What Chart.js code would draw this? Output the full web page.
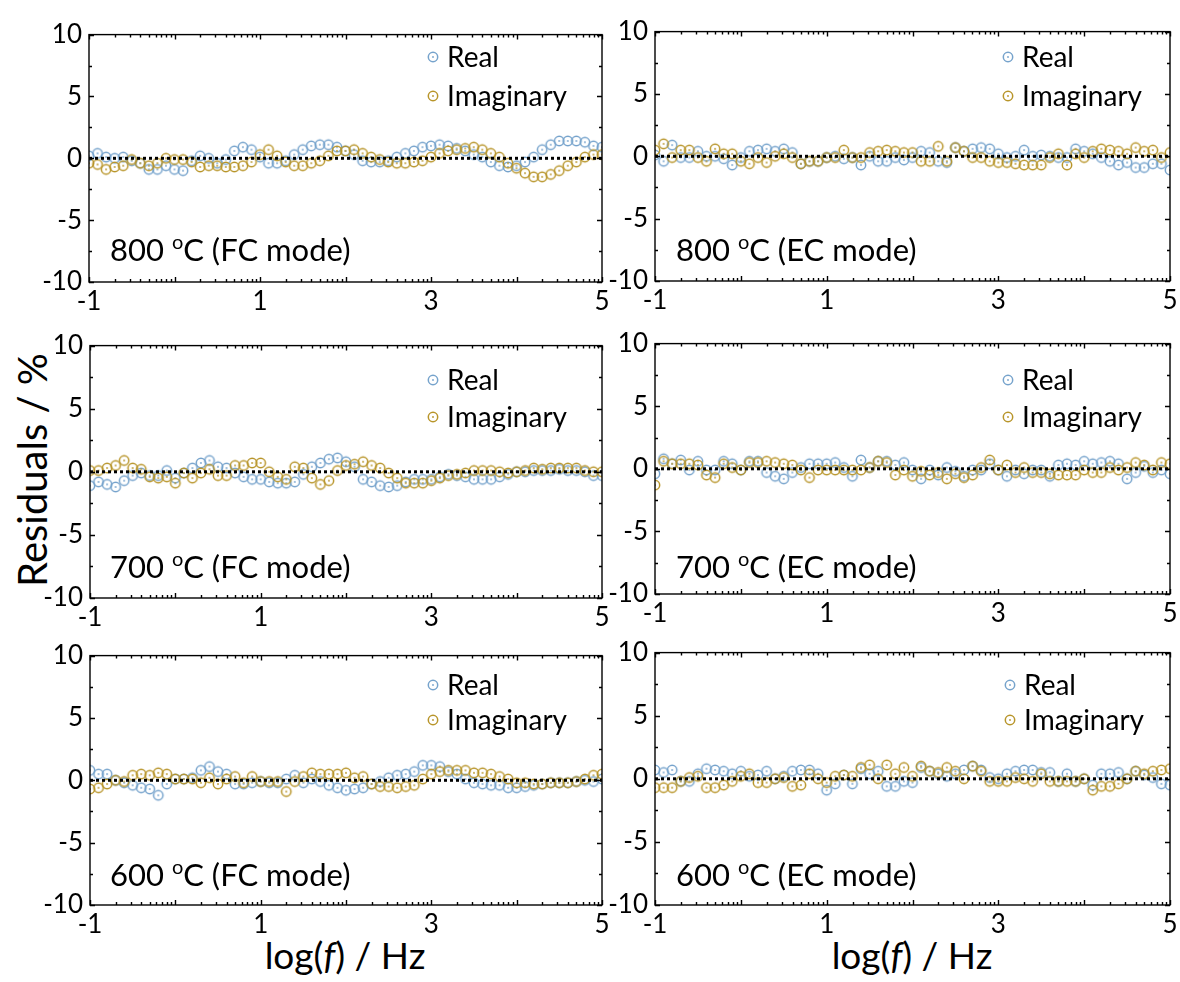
<!DOCTYPE html>
<html>
<head>
<meta charset="utf-8">
<script src="https://cdn.jsdelivr.net/npm/chart.js@4.4.0/dist/chart.umd.min.js"></script>
<style>
  body { margin: 0; background: #fff; width: 1180px; height: 982px; overflow: hidden; position: relative; font-family: Lato, "Open Sans", sans-serif; }
  canvas { position: absolute; }
  .title { position: absolute; font-size: 37px; color: #000; white-space: nowrap; transform: translate(-50%, -50%); }
</style>
</head>
<body>
<div class="title" style="left:32px; top:470px; font-size:40px; transform: translate(-50%, -50%) rotate(-90deg);">Residuals / %</div>
<div class="title" style="left:345px; top:954px;">log(<i>f</i>) / Hz</div>
<div class="title" style="left:912px; top:954px;">log(<i>f</i>) / Hz</div>
<script>
// log(f) positions of the measured points
const logF = [-1.0,-0.9,-0.8,-0.7,-0.6,-0.5,-0.4,-0.3,-0.2,-0.1,0.0,0.1,0.2,0.3,0.4,0.5,0.6,0.7,0.8,0.9,
  1.0,1.1,1.2,1.3,1.4,1.5,1.6,1.7,1.8,1.9,2.0,2.1,2.2,2.3,2.4,2.5,2.6,2.7,2.8,2.9,
  3.0,3.1,3.2,3.3,3.4,3.5,3.6,3.7,3.8,3.9,4.0,4.1,4.2,4.3,4.4,4.5,4.6,4.7,4.8,4.9,5.0];

// residuals (%)
const real800FC = [0.2,0.4,0.1,0.0,0.1,-0.2,-0.4,-0.9,-0.9,-0.6,-0.9,-1.0,-0.2,0.2,0.0,-0.4,-0.1,0.6,0.9,0.7,
  0.1,-0.4,-0.4,-0.2,0.3,0.7,1.0,1.1,1.1,0.9,0.6,0.3,-0.2,-0.3,-0.3,-0.2,0.1,0.4,0.6,0.9,
  1.0,1.1,1.0,0.8,0.6,0.3,0.1,-0.3,-0.6,-0.7,-0.6,-0.3,0.1,0.7,1.1,1.4,1.4,1.4,1.3,1.0,0.9];
const imag800FC = [-0.4,-0.5,-0.9,-0.7,-0.6,-0.1,-0.4,-0.6,-0.4,0.0,-0.1,-0.1,-0.3,-0.7,-0.6,-0.6,-0.7,-0.7,-0.6,-0.3,
  0.3,0.7,0.2,-0.3,-0.6,-0.6,-0.4,-0.2,0.2,0.6,0.6,0.7,0.4,0.1,-0.1,-0.3,-0.4,-0.4,-0.3,-0.2,
  0.1,0.4,0.6,0.7,0.8,0.9,0.7,0.4,0.1,-0.4,-0.8,-1.2,-1.5,-1.5,-1.3,-1.0,-0.6,-0.3,0.1,0.3,0.3];
const real800EC = [0.1,-0.4,0.9,-0.1,-0.1,0.4,0.0,0.0,-0.2,-0.7,-0.1,0.4,0.5,0.6,0.4,0.6,0.3,-0.6,-0.4,-0.4,
  -0.1,0.0,-0.2,-0.1,-0.7,0.0,-0.4,-0.4,-0.1,-0.3,-0.1,0.4,0.3,-0.4,-0.5,0.7,0.4,0.6,0.7,0.6,
  0.2,-0.1,0.0,0.5,0.0,0.1,0.0,-0.1,-0.1,0.6,0.4,0.2,-0.1,-0.4,-0.7,-0.5,-0.9,-0.9,-0.6,-0.6,-1.1];
const imag800EC = [0.5,1.0,-0.1,0.5,0.5,-0.1,-0.4,0.6,0.2,0.2,-0.4,-0.6,-0.1,-0.5,0.0,0.2,-0.1,-0.6,-0.4,-0.4,
  -0.1,-0.1,0.5,-0.1,-0.1,0.3,0.4,0.5,0.4,0.3,0.3,-0.4,-0.4,0.8,-0.4,0.7,0.4,-0.1,-0.1,-0.4,
  -0.5,-0.5,-0.6,-0.7,-0.7,-0.7,-0.1,0.2,-0.7,0.2,-0.1,0.4,0.6,0.5,0.4,0.2,0.7,0.4,0.5,-0.1,0.3];
const real700FC = [-1.1,-0.8,-1.0,-1.2,-0.7,-0.3,-0.1,-0.3,-0.3,0.1,-0.5,-0.1,0.3,0.7,0.9,0.4,0.3,-0.1,-0.4,-0.6,
  -0.6,-0.8,-0.9,-0.9,-0.8,-0.2,0.4,0.7,1.0,1.1,0.8,0.4,-0.6,-0.8,-1.1,-1.2,-1.1,-0.8,-0.6,-0.6,
  -0.6,-0.4,-0.2,-0.3,-0.4,-0.6,-0.6,-0.6,-0.4,-0.2,0.0,0.0,0.1,0.1,0.1,0.2,0.1,0.1,0.0,-0.3,-0.3];
const imag700FC = [0.1,0.1,0.3,0.5,0.9,0.3,0.2,-0.4,-0.5,-0.4,-0.9,-0.1,-0.5,-0.1,0.2,-0.3,-0.3,0.5,0.5,0.7,
  0.7,0.0,-0.4,-0.6,0.4,0.3,-0.5,-1.0,-0.7,0.1,0.5,0.6,0.8,0.5,0.3,-0.1,-0.5,-0.9,-0.9,-0.9,
  -0.7,-0.5,-0.3,-0.2,-0.1,0.1,0.1,0.1,0.0,-0.1,0.0,0.1,0.3,0.2,0.3,0.3,0.3,0.3,0.1,0.0,0.0];
const real700EC = [-0.4,0.8,0.4,0.7,-0.1,0.6,-0.1,-0.1,0.6,0.4,-0.1,0.6,0.6,-0.3,-0.6,-0.8,-0.3,0.1,0.4,0.4,
  0.4,0.5,0.1,-0.6,0.7,0.1,0.6,0.6,0.3,0.5,-0.1,-0.8,-0.1,-0.5,0.1,-0.2,-0.6,-0.1,-0.1,0.4,
  -0.1,-0.6,-0.1,-0.4,-0.1,-0.1,-0.6,0.3,0.4,0.3,0.6,0.4,0.5,0.6,0.4,-0.8,-0.3,0.2,-0.3,-0.1,-0.4];
const imag700EC = [-1.3,0.6,0.4,0.4,0.4,0.3,-0.5,-0.7,0.4,0.1,-0.1,0.5,0.5,0.6,0.5,0.4,0.3,-0.1,-0.7,-0.1,
  -0.1,-0.1,-0.1,-0.1,-0.1,0.1,0.6,0.5,-0.5,-0.1,-0.6,-0.2,-0.5,-0.3,-0.8,-0.4,-0.7,-0.5,0.1,0.7,
  -0.1,0.3,-0.3,0.1,-0.3,-0.3,-0.4,-0.5,-0.5,-0.5,-0.1,-0.3,-0.3,0.1,-0.1,0.1,0.5,0.3,-0.1,0.5,0.4];
const real600FC = [0.8,0.5,0.5,0.0,-0.2,-0.4,-0.6,-0.7,-1.2,-0.3,0.1,0.1,0.2,0.8,1.1,0.7,0.5,-0.3,-0.3,-0.2,
  -0.1,-0.2,-0.2,0.1,0.4,-0.2,0.1,-0.1,-0.4,-0.6,-0.8,-0.7,-0.6,-0.3,-0.1,0.2,0.4,0.5,0.7,1.2,
  1.2,1.1,0.7,0.5,0.1,-0.2,-0.3,-0.4,-0.4,-0.6,-0.6,-0.5,-0.4,-0.3,-0.2,-0.2,-0.2,-0.1,0.0,-0.1,0.1];
const imag600FC = [-0.7,-0.6,-0.3,0.0,-0.1,0.4,0.5,0.4,0.6,0.5,0.1,0.1,0.1,-0.2,0.2,-0.3,0.1,0.3,-0.2,0.3,
  -0.1,-0.1,-0.1,-0.9,-0.1,0.3,0.6,0.5,0.5,0.5,0.6,0.2,0.3,-0.3,-0.5,-0.5,-0.6,-0.5,-0.4,0.1,
  0.5,0.7,0.8,0.8,0.8,0.6,0.6,0.5,0.3,0.1,-0.2,-0.2,-0.3,-0.3,-0.2,-0.2,-0.2,-0.1,0.1,0.4,0.5];
const real600EC = [0.7,0.5,0.7,-0.2,-0.2,0.4,0.8,0.7,0.6,0.4,0.6,0.2,0.3,0.6,0.0,0.2,0.6,0.7,0.7,0.4,
  -0.9,-0.4,0.3,-0.4,0.8,0.4,0.6,-0.6,-0.6,-0.2,-0.3,0.9,0.6,0.4,0.2,0.4,0.7,1.0,0.7,0.1,
  0.0,0.4,0.6,0.7,0.7,0.5,0.5,-0.2,0.4,-0.2,0.0,-0.5,0.4,0.4,0.5,0.0,0.6,0.3,0.1,-0.4,-0.5];
const imag600EC = [-0.7,-0.7,-0.7,-0.2,0.1,0.2,-0.7,-0.7,-0.5,-0.2,0.2,0.4,-0.3,-0.3,0.0,0.1,-0.6,-0.5,0.4,0.0,
  -0.3,0.2,0.3,0.2,0.9,1.1,0.0,1.1,0.4,0.9,0.2,1.0,0.6,0.5,0.9,0.6,0.0,1.0,0.6,-0.2,
  -0.2,-0.2,0.1,0.0,-0.2,0.4,-0.2,-0.2,-0.2,-0.2,0.0,-0.9,-0.6,-0.6,-0.4,0.0,0.6,0.4,0.6,0.7,0.8];

const xLabelled = [-1, 1, 3, 5];
const seriesNames = ['Real', 'Imaginary'];
const REAL_COLOR = '#76a3cc';
const IMAG_COLOR = '#b8952a';
const FONT = 'Lato, "Open Sans", sans-serif';

// page geometry of each plot box (l,t,r,b), legend and caption spots
const panels = [
  { temp: '800', mode: 'FC', real: real800FC, imag: imag800FC, box: [89, 27, 602, 282], leg: [433, 57, 96], cap: [110, 261] },
  { temp: '800', mode: 'EC', real: real800EC, imag: imag800EC, box: [655, 24, 1170, 281], leg: [1008, 57, 96], cap: [676, 261] },
  { temp: '700', mode: 'FC', real: real700FC, imag: imag700FC, box: [90, 338, 602, 598], leg: [433, 380, 417], cap: [110, 578] },
  { temp: '700', mode: 'EC', real: real700EC, imag: imag700EC, box: [655, 336, 1170, 594], leg: [1008, 380, 417], cap: [676, 578] },
  { temp: '600', mode: 'FC', real: real600FC, imag: imag600FC, box: [90, 648, 602, 905], leg: [433, 685, 720], cap: [110, 886] },
  { temp: '600', mode: 'EC', real: real600EC, imag: imag600EC, box: [655, 645, 1170, 905], leg: [1010, 685, 720], cap: [676, 886] },
];

function makeMarker(color) {
  const c = document.createElement('canvas');
  c.width = 14; c.height = 14;
  const g = c.getContext('2d');
  g.strokeStyle = color; g.lineWidth = 1.5;
  g.beginPath(); g.arc(7, 7, 4.7, 0, Math.PI * 2); g.stroke();
  g.fillStyle = color;
  g.beginPath(); g.arc(7, 7, 0.9, 0, Math.PI * 2); g.fill();
  return c;
}
const realMarker = makeMarker(REAL_COLOR);
const imagMarker = makeMarker(IMAG_COLOR);

const PAD_L = 70, PAD_T = 15, PAD_R = 15, PAD_B = 40;

const framePlugin = {
  id: 'frame',
  afterDatasetsDraw(chart, args, opts) {
    const { ctx, chartArea: a, scales: { x, y } } = chart;
    const p = opts.panel;
    const ox = p.box[0] - PAD_L, oy = p.box[1] - PAD_T;
    ctx.save();
    ctx.strokeStyle = '#000';
    ctx.lineWidth = 1.4;
    ctx.strokeRect(a.left, a.top, a.right - a.left, a.bottom - a.top);
    ctx.beginPath();
    for (let n = -1; n <= 5; n++) {
      for (let k = 1; k <= 9; k++) {
        if (n === 5 && k > 1) break;
        const px = Math.round(x.getPixelForValue(n + Math.log10(k))) + 0.5;
        const len = k === 1 ? 5 : 3;
        ctx.moveTo(px, a.bottom); ctx.lineTo(px, a.bottom - len);
        ctx.moveTo(px, a.top); ctx.lineTo(px, a.top + len);
      }
    }
    for (let v = -10; v <= 10; v += 2.5) {
      const py = Math.round(y.getPixelForValue(v)) + 0.5;
      const len = v % 5 === 0 ? 5 : 3;
      ctx.moveTo(a.left, py); ctx.lineTo(a.left + len, py);
      ctx.moveTo(a.right, py); ctx.lineTo(a.right - len, py);
    }
    ctx.stroke();

    // legend
    ctx.fillStyle = '#000';
    ctx.font = '28px ' + FONT;
    ctx.textBaseline = 'middle';
    const lx = p.leg[0] - ox;
    [[realMarker, p.leg[1]], [imagMarker, p.leg[2]]].forEach(([m, ly], i) => {
      ctx.drawImage(m, lx - 7, ly - oy - 7);
      ctx.fillText(seriesNames[i], lx + 14, ly - oy + 1);
    });

    // caption "800 oC (FC mode)"
    ctx.textBaseline = 'alphabetic';
    let cx = p.cap[0] - ox;
    const cy = p.cap[1] - oy;
    ctx.font = '31px ' + FONT;
    const s1 = p.temp + ' ';
    ctx.fillText(s1, cx, cy);
    cx += ctx.measureText(s1).width;
    ctx.font = '20px ' + FONT;
    ctx.fillText('o', cx, cy - 12);
    cx += ctx.measureText('o').width;
    ctx.font = '31px ' + FONT;
    ctx.fillText('C (' + p.mode + ' mode)', cx, cy);
    ctx.restore();
  }
};

panels.forEach((p) => {
  const w = p.box[2] - p.box[0] + PAD_L + PAD_R;
  const h = p.box[3] - p.box[1] + PAD_T + PAD_B;
  const cv = document.createElement('canvas');
  cv.width = w; cv.height = h;
  cv.style.left = (p.box[0] - PAD_L) + 'px';
  cv.style.top = (p.box[1] - PAD_T) + 'px';
  cv.style.width = w + 'px'; cv.style.height = h + 'px';
  document.body.appendChild(cv);

  new Chart(cv.getContext('2d'), {
    type: 'scatter',
    data: {
      datasets: [
        {
          label: 'zero',
          data: [{ x: -1, y: 0 }, { x: 5, y: 0 }],
          showLine: true,
          borderColor: '#000',
          borderWidth: 3,
          borderDash: [3, 3],
          pointRadius: 0,
          order: 0,
        },
        {
          label: seriesNames[0],
          data: logF.map((x, i) => ({ x: x, y: p.real[i] })),
          pointStyle: realMarker,
          order: 2,
        },
        {
          label: seriesNames[1],
          data: logF.map((x, i) => ({ x: x, y: p.imag[i] })),
          pointStyle: imagMarker,
          order: 1,
        },
      ],
    },
    options: {
      responsive: false,
      animation: false,
      devicePixelRatio: 1,
      layout: { padding: { left: 0, top: PAD_T, right: PAD_R, bottom: 0 } },
      plugins: {
        legend: { display: false },
        tooltip: { enabled: false },
        frame: { panel: p },
      },
      scales: {
        x: {
          type: 'linear',
          min: -1, max: 5,
          afterFit: (s) => { s.height = PAD_B; },
          grid: { display: false, drawTicks: false },
          border: { display: false },
          ticks: {
            stepSize: 1,
            autoSkip: false,
            maxRotation: 0,
            padding: 4,
            color: '#000',
            font: { family: FONT, size: 26 },
            callback: (v) => (xLabelled.includes(v) ? String(v) : ''),
          },
        },
        y: {
          min: -10, max: 10,
          afterFit: (s) => { s.width = PAD_L; },
          grid: { display: false, drawTicks: false },
          border: { display: false },
          ticks: {
            stepSize: 5,
            padding: 7,
            color: '#000',
            font: { family: FONT, size: 26 },
          },
        },
      },
    },
    plugins: [framePlugin],
  });
});
</script>
</body>
</html>
